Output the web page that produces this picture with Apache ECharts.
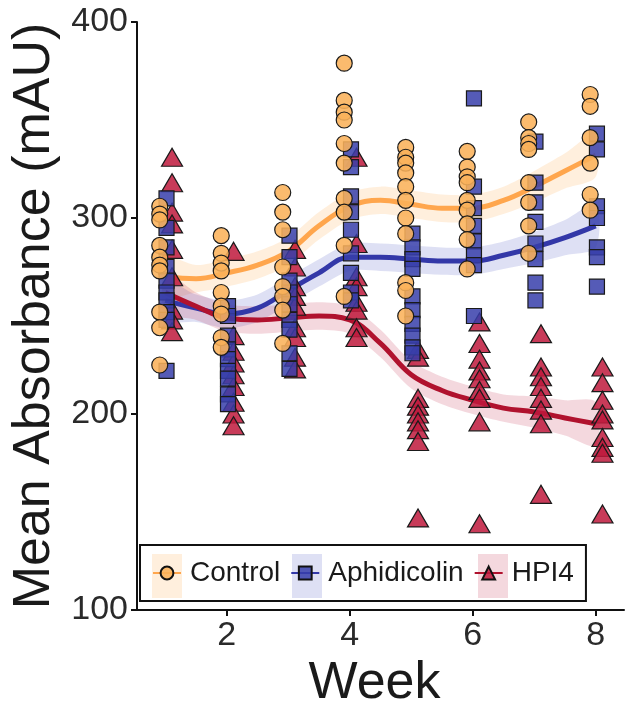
<!DOCTYPE html>
<html><head><meta charset="utf-8">
<script src="https://cdn.jsdelivr.net/npm/echarts@6/dist/echarts.min.js"></script>
<style>html,body{margin:0;padding:0;background:#fff}#c{width:628px;height:709px}</style>
</head><body><div id="c"></div>
<script>
const weeks = [1, 2, 3, 4, 5, 6, 7, 8];
const controlVals = [
  [306, 302, 299, 286, 280, 276, 273, 252, 244, 225],
  [291, 282, 277, 273, 262, 255, 251, 239, 234],
  [313, 303, 294, 275, 265, 260, 253, 236],
  [379, 360, 354, 350, 338, 328, 310, 303, 286, 260],
  [336, 331, 328, 323, 316, 309, 300, 292, 267, 263, 250],
  [334, 326, 321, 318, 309, 304, 297, 289, 274],
  [349, 341, 338, 335, 318, 308, 296, 282],
  [363, 357, 341, 328, 312, 304]
];
const aphidicolinVals = [
  [310, 295, 285, 275, 268, 262, 258, 252, 248, 222],
  [255, 250, 240, 233, 228, 222, 218, 210, 205],
  [291, 280, 268, 262, 256, 248, 243, 231, 223],
  [335, 326, 311, 303, 294, 282, 272, 262, 258],
  [292, 285, 279, 274, 260, 253, 246, 240, 234, 231],
  [361, 316, 305, 296, 288, 281, 276, 250],
  [339, 318, 308, 298, 287, 279, 267, 258],
  [343, 335, 306, 300, 285, 280, 265]
];
const hpi4Vals = [
  [331, 318, 303, 297, 284, 270, 253, 248, 242],
  [283, 240, 232, 226, 220, 214, 206, 200, 194],
  [284, 275, 265, 260, 255, 244, 239, 229, 223],
  [331, 287, 270, 265, 257, 253, 244, 239],
  [233, 229, 208, 204, 200, 196, 192, 186, 147],
  [247, 236, 228, 222, 218, 212, 208, 196, 144],
  [241, 224, 219, 214, 208, 202, 195, 159],
  [224, 216, 207, 200, 197, 188, 183, 180, 149]
];
// smoothed trend with confidence band
const fitX = [1, 1.5, 2, 2.5, 3, 3.5, 4, 4.5, 5, 5.5, 6, 6.5, 7, 7.5, 8];
const controlFit = [270, 269, 272, 276, 283, 296, 306, 309, 307, 305, 305, 309, 316, 324, 332];
const controlLo  = [260, 262, 265, 269, 276, 289, 299, 302, 300, 298, 298, 302, 308, 315, 321];
const controlHi  = [280, 276, 279, 283, 290, 303, 313, 316, 314, 312, 312, 316, 324, 333, 343];
const aphFit = [258, 254, 251, 254, 263, 272, 280, 280, 279, 278, 278, 281, 285, 290, 296];
const aphLo  = [248, 247, 244, 247, 256, 265, 273, 273, 272, 271, 271, 274, 277, 281, 285];
const aphHi  = [268, 261, 258, 261, 270, 279, 287, 287, 286, 285, 285, 288, 293, 299, 307];
const hpiFit = [262, 255, 249, 248, 249, 250, 248, 236, 220, 212, 207, 203, 201, 198, 195];
const hpiLo  = [252, 248, 242, 241, 242, 243, 241, 229, 213, 205, 200, 196, 193, 189, 184];
const hpiHi  = [272, 262, 256, 255, 256, 257, 255, 243, 227, 219, 214, 210, 209, 207, 206];
const xTicks = [2, 4, 6, 8];
const yTicks = [100, 200, 300, 400];
const groups = ['Control', 'Aphidicolin', 'HPI4'];

const FONT = '"Liberation Sans", Arial, sans-serif';
const COL = {
  Control: {pt: 'rgba(251,178,90,0.88)', line: '#FFA64D', band: 'rgba(255,190,120,0.25)'},
  Aphidicolin: {pt: 'rgba(55,62,170,0.85)', line: '#3338A8', band: 'rgba(90,100,200,0.2)'},
  HPI4: {pt: 'rgba(190,25,60,0.85)', line: '#B0122E', band: 'rgba(200,60,90,0.2)'}
};
const DODGE = {Control: -0.09, Aphidicolin: 0.02, HPI4: 0.11};

function pts(vals, name) {
  const out = [];
  vals.forEach((arr, i) => arr.forEach(v => out.push([weeks[i] + DODGE[name], v])));
  return out;
}
function band(name, lo, hi) {
  return {
    name: name + ' band', type: 'custom', silent: true, z: 1,
    data: fitX.map((x, i) => [x, lo[i], hi[i]]),
    encode: {x: 0, y: [1, 2]},
    renderItem: function (params, api) {
      if (params.dataIndex !== 0) return;
      const top = fitX.map((x, i) => api.coord([x, hi[i]]));
      const bot = fitX.map((x, i) => api.coord([x, lo[i]])).reverse();
      return {type: 'polygon', shape: {points: top.concat(bot), smooth: 0.3},
        style: {fill: COL[name].band, stroke: null}};
    }
  };
}
function fitLine(name, fit, symbol, size) {
  return {name: name, type: 'line', smooth: 0.4, symbol: symbol, symbolSize: size, showSymbol: false,
    data: fitX.map((x, i) => [x, fit[i]]), silent: true,
    lineStyle: {color: COL[name].line, width: 5},
    itemStyle: {color: COL[name].pt, borderColor: '#111', borderWidth: 1.2}, z: 2};
}
function scat(name, vals, symbol, size) {
  return {name: name, type: 'scatter', symbol: symbol, symbolSize: size, data: pts(vals, name),
    itemStyle: {color: COL[name].pt, borderColor: '#1a1a1a', borderWidth: 1.2, opacity: 1},
    emphasis: {disabled: true}, z: 3};
}

const chart = echarts.init(document.getElementById('c'), null, {renderer: 'canvas'});
chart.setOption({
  animation: false,
  backgroundColor: '#fff',
  grid: {left: 137, right: 4, top: 22, bottom: 99, containLabel: false, outerBoundsMode: 'none'},
  xAxis: {
    type: 'value', min: 0.54, max: 8.46,
    name: 'Week', nameLocation: 'middle', nameGap: 42,
    nameTextStyle: {fontFamily: FONT, fontSize: 52, color: '#1a1a1a', padding: [0, 12, 0, 0]},
    axisLine: {show: true, lineStyle: {color: '#111', width: 2}},
    axisTick: {show: true, customValues: xTicks, length: 6, lineStyle: {color: '#111', width: 2}},
    axisLabel: {customValues: xTicks, fontFamily: FONT, fontSize: 34, color: '#2a2a2a', margin: 9},
    splitLine: {show: false}
  },
  yAxis: {
    type: 'value', min: 100, max: 400, interval: 100,
    name: 'Mean Absorbance (mAU)', nameLocation: 'middle', nameGap: 75,
    nameTextStyle: {fontFamily: FONT, fontSize: 52, color: '#1a1a1a'},
    axisLine: {show: true, lineStyle: {color: '#111', width: 2}},
    axisTick: {show: true, length: 6, lineStyle: {color: '#111', width: 2}},
    axisLabel: {fontFamily: FONT, fontSize: 34, color: '#2a2a2a', margin: 9,
      formatter: v => (yTicks.indexOf(v) >= 0 ? String(v) : '')},
    splitLine: {show: false}
  },
  legend: {
    data: groups, left: 140, top: 545, orient: 'horizontal',
    padding: [14, 12, 14, 12], itemGap: 10, itemWidth: 28, itemHeight: 16,
    borderColor: '#111', borderWidth: 2, backgroundColor: 'transparent',
    selectedMode: false,
    textStyle: {fontFamily: FONT, fontSize: 28, color: '#1a1a1a', padding: [0, 0, 0, 4]}
  },
  graphic: [
    {type: 'rect', shape: {x: 152, y: 554, width: 30, height: 44}, style: {fill: COL.Control.band}, z: -1, silent: true},
    {type: 'rect', shape: {x: 292, y: 554, width: 30, height: 44}, style: {fill: COL.Aphidicolin.band}, z: -1, silent: true},
    {type: 'rect', shape: {x: 478, y: 554, width: 30, height: 44}, style: {fill: COL.HPI4.band}, z: -1, silent: true}
  ],
  series: [
    fitLine('Control', controlFit, 'circle', 14),
    fitLine('Aphidicolin', aphFit, 'rect', 14),
    fitLine('HPI4', hpiFit, 'triangle', 18),
    band('Control', controlLo, controlHi),
    band('Aphidicolin', aphLo, aphHi),
    band('HPI4', hpiLo, hpiHi),
    scat('HPI4', hpi4Vals, 'triangle', [21, 18]),
    scat('Aphidicolin', aphidicolinVals, 'rect', 15),
    scat('Control', controlVals, 'circle', 16)
  ]
});
</script></body></html>
